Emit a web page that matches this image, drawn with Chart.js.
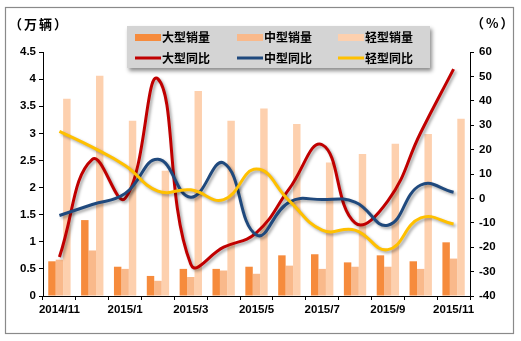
<!DOCTYPE html>
<html>
<head>
<meta charset="utf-8">
<script src="https://cdn.jsdelivr.net/npm/chart.js@4"></script>
<style>
  html, body { margin: 0; padding: 0; background: #fff; }
  #wrap { width: 521px; height: 341px; }
</style>
</head>
<body>
<div id="wrap"><canvas id="myChart" width="521" height="341"></canvas></div>
<script>
let labels = ["2014/11", "2014/12", "2015/1", "2015/2", "2015/3", "2015/4", "2015/5",
  "2015/6", "2015/7", "2015/8", "2015/9", "2015/10", "2015/11"];
// 销量 (万辆)
let daXing = [0.64, 1.40, 0.54, 0.37, 0.50, 0.50, 0.54, 0.75, 0.77, 0.62, 0.75, 0.64, 0.99];
let zhongXing = [0.67, 0.84, 0.50, 0.28, 0.35, 0.47, 0.41, 0.56, 0.50, 0.54, 0.54, 0.50, 0.69];
let qingXing = [3.64, 4.06, 3.23, 2.31, 3.78, 3.23, 3.46, 3.17, 2.46, 2.62, 2.81, 2.99, 3.27];
// 同比 (%)
let daTongbi = [-24, 16, 0, 49, -27, -20, -14, 4, 22, -10, -1, 27, 53];
let zhongTongbi = [-7, -2.5, 2, 16, 0.5, 14.5, -15, -1.5, -0.5, -1.5, -11, 5.5, 2.5];
let qingTongbi = [27.5, 21, 13.5, 3, 3.5, -0.5, 12, -1, -13, -13, -21, -8, -10.5];

let seriesNames = ["大型销量", "中型销量", "轻型销量", "大型同比", "中型同比", "轻型同比"];
let colors = ["#F68B3C", "#F9B98B", "#FDD0AE", "#C00000", "#1F497D", "#FFC000"];

let tickFont = { family: "'Liberation Sans', Arial, sans-serif", size: 11.5, weight: "bold" };
let cjkFont = "bold 12px 'Noto Sans CJK SC', sans-serif";

// white page, grey frame, unit labels
let framePlugin = {
  id: "frame",
  beforeDraw(chart) {
    let ctx = chart.ctx;
    ctx.save();
    ctx.fillStyle = "#fff";
    ctx.fillRect(0, 0, chart.width, chart.height);
    ctx.strokeStyle = "#8a8a8a";
    ctx.lineWidth = 1.2;
    ctx.strokeRect(5.5, 7.5, 508, 326);
    ctx.fillStyle = "#000";
    ctx.font = "bold 13px 'Noto Sans CJK SC', sans-serif";
    ctx.textBaseline = "middle";
    ctx.textAlign = "left";
    ctx.letterSpacing = "2px";
    ctx.fillText("（万辆）", 9, 24);
    ctx.fillText("（%）", 471, 23);
    ctx.restore();
  }
};

// soft shadow under the lines
let shadowPlugin = {
  id: "lineShadow",
  beforeDatasetDraw(chart, args) {
    if (args.meta.type !== "line") return;
    let ctx = chart.ctx;
    ctx.save();
    ctx.shadowColor = "rgba(0,0,0,0.35)";
    ctx.shadowBlur = 3;
    ctx.shadowOffsetX = 2;
    ctx.shadowOffsetY = 2;
  },
  afterDatasetDraw(chart, args) {
    if (args.meta.type !== "line") return;
    chart.ctx.restore();
  }
};

// grey legend box, 3 columns x 2 rows
let legendPlugin = {
  id: "boxLegend",
  afterDraw(chart) {
    let ctx = chart.ctx;
    ctx.save();
    ctx.shadowColor = "rgba(0,0,0,0.45)";
    ctx.shadowBlur = 4;
    ctx.shadowOffsetX = 2;
    ctx.shadowOffsetY = 3;
    ctx.fillStyle = "#D4D4D4";
    ctx.fillRect(127, 26, 303, 42);
    ctx.shadowColor = "transparent";
    let swX = [135, 237, 338];
    let rowY = [37.5, 58];
    chart.data.datasets.forEach(function (ds) {
      let i = seriesNames.indexOf(ds.label);
      let col = i % 3, row = Math.floor(i / 3);
      let x = swX[col], y = rowY[row];
      if (row === 0) {
        ctx.fillStyle = ds.backgroundColor;
        ctx.fillRect(x, y - 3.5, 26, 7);
      } else {
        ctx.strokeStyle = ds.borderColor;
        ctx.lineWidth = 3;
        ctx.beginPath();
        ctx.moveTo(x, y);
        ctx.lineTo(x + 26, y);
        ctx.stroke();
      }
      ctx.fillStyle = "#000";
      ctx.font = cjkFont;
      ctx.textBaseline = "middle";
      ctx.textAlign = "left";
      ctx.fillText(ds.label, x + 27, y);
    });
    ctx.restore();
  }
};

function lineSet(i, values, order) {
  return {
    type: "line",
    label: seriesNames[i],
    data: values,
    yAxisID: "y1",
    borderColor: colors[i],
    backgroundColor: colors[i],
    borderWidth: 3,
    pointRadius: 0,
    tension: 0.45,
    fill: false,
    order: order
  };
}

function barSet(i, values) {
  return {
    type: "bar",
    label: seriesNames[i],
    data: values,
    yAxisID: "y",
    backgroundColor: colors[i],
    borderWidth: 0,
    barPercentage: 1,
    categoryPercentage: 0.68,
    order: 10
  };
}

let ctx = document.getElementById("myChart").getContext("2d");
let chart = new Chart(ctx, {
  data: {
    labels: labels,
    datasets: [
      barSet(0, daXing),
      barSet(1, zhongXing),
      barSet(2, qingXing),
      lineSet(3, daTongbi, 3),
      lineSet(4, zhongTongbi, 2),
      lineSet(5, qingTongbi, 1)
    ]
  },
  options: {
    responsive: false,
    animation: false,
    layout: { padding: { top: 52, left: 0, right: 0, bottom: 0 } },
    plugins: {
      legend: { display: false },
      tooltip: { enabled: false },
      title: { display: false }
    },
    scales: {
      x: {
        offset: true,
        grid: { display: true, offset: true, drawOnChartArea: false, drawTicks: true, tickLength: 4, color: "#000" },
        border: { display: true, color: "#000", width: 1 },
        ticks: {
          autoSkip: false,
          maxRotation: 0,
          color: "#000",
          font: tickFont,
          padding: 3,
          callback: function (v, i) { return i % 2 === 0 ? labels[i] : ""; }
        },
        afterFit: function (s) { s.height = 45; }
      },
      y: {
        position: "left",
        min: 0,
        max: 4.5,
        grid: { drawOnChartArea: false, tickLength: 4, color: "#000" },
        border: { display: true, color: "#000", width: 1 },
        ticks: { stepSize: 0.5, color: "#000", font: tickFont, padding: 3, callback: function (v) { return String(v); } },
        afterFit: function (s) { s.width = 43; }
      },
      y1: {
        position: "right",
        min: -40,
        max: 60,
        grid: { drawOnChartArea: false, tickLength: 4, color: "#000" },
        border: { display: true, color: "#000", width: 1 },
        ticks: { stepSize: 10, color: "#000", font: tickFont, padding: 5, callback: function (v) { return String(v); } },
        afterFit: function (s) { s.width = 51; }
      }
    }
  },
  plugins: [framePlugin, shadowPlugin, legendPlugin]
});
</script>
</body>
</html>
